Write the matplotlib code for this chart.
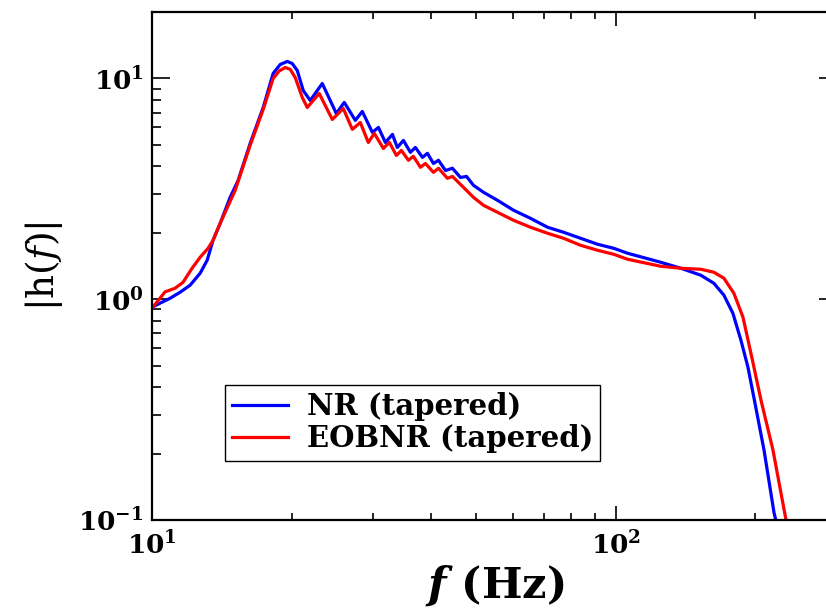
import matplotlib
matplotlib.use("Agg")
import matplotlib.pyplot as plt
from matplotlib.ticker import FixedLocator, FuncFormatter, NullFormatter
import numpy as np

# ---- data ----
nr_f = [10.0, 10.4, 10.94, 11.5, 12.08, 12.7, 13.15, 13.54, 14.03, 14.74, 15.34,
        16.28, 17.37, 18.25, 18.9, 19.57, 20.06, 20.57, 21.19, 21.94, 23.29, 24.97,
        25.98, 27.44, 28.41, 29.87, 30.78, 31.86, 33.0, 33.8, 34.85, 36.07, 36.98,
        38.3, 39.26, 40.45, 41.47, 42.94, 44.45, 46.26, 47.66, 49.35, 51.87, 55.6,
        60.2, 65.5, 71.3, 77.2, 84.0, 91.4, 99.0, 106.1, 125.1, 138.2, 152.6, 162.8,
        171.1, 178.9, 186.2, 192.8, 198.7, 208.8, 219.5, 222.7]
nr_h = [0.92, 0.959, 1.01, 1.076, 1.157, 1.311, 1.501, 1.849, 2.208, 2.894, 3.456,
        5.08, 7.39, 10.54, 11.57, 11.94, 11.69, 10.87, 8.82, 7.95, 9.49, 6.94,
        7.79, 6.46, 7.09, 5.70, 6.00, 5.13, 5.58, 4.87, 5.24, 4.63, 4.87,
        4.39, 4.58, 4.12, 4.26, 3.83, 3.92, 3.56, 3.60, 3.28, 3.05, 2.805,
        2.53, 2.325, 2.118, 2.01, 1.888, 1.774, 1.701, 1.615, 1.47, 1.381, 1.284, 1.181,
        1.043, 0.864, 0.652, 0.492, 0.356, 0.2074, 0.1076, 0.0949]

eob_f = [10.0, 10.67, 11.21, 11.67, 12.2, 12.7, 13.21, 13.54, 14.03, 15.11, 16.28,
         17.37, 18.25, 18.8, 19.38, 19.86, 20.36, 21.09, 21.62, 22.94, 24.48, 25.85,
         27.04, 28.13, 29.27, 30.16, 31.54, 32.5, 33.65, 34.5, 35.72, 36.61, 37.91,
         38.87, 40.45, 41.47, 43.36, 44.45, 46.96, 49.35, 51.87, 55.6, 60.2, 65.5,
         71.3, 77.2, 84.0, 91.4, 99.0, 106.1, 125.1, 138.2, 152.6, 162.8, 171.1,
         179.8, 188.1, 196.7, 205.7, 218.3, 232.9, 235.2]
eob_h = [0.91, 1.08, 1.121, 1.194, 1.381, 1.549, 1.701, 1.849, 2.208, 3.112, 4.98,
         7.24, 10.0, 10.81, 11.21, 11.0, 10.1, 8.20, 7.39, 8.55, 6.52, 7.31,
         5.88, 6.32, 5.13, 5.64, 4.82, 5.13, 4.48, 4.72, 4.26, 4.44, 3.96,
         4.12, 3.755, 3.92, 3.53, 3.60, 3.21, 2.894, 2.663, 2.476, 2.278, 2.118,
         1.989, 1.888, 1.755, 1.666, 1.598, 1.517, 1.410, 1.381, 1.367, 1.325, 1.245,
         1.064, 0.829, 0.541, 0.349, 0.2074, 0.1, 0.092]

series_labels = ["NR (tapered)", "EOBNR (tapered)"]
x_major = [10, 100]
y_major = [0.1, 1, 10]

plt.rcParams['font.family'] = ['DejaVu Serif']
plt.rcParams['mathtext.fontset'] = 'dejavuserif'

fig = plt.figure(figsize=(8.26, 6.09), dpi=100)
ax = fig.add_axes([152/826, 1 - 520/609, 685/826, 508/609])

ax.plot(nr_f, nr_h, color='#0000ff', lw=2.3, label=series_labels[0])
ax.plot(eob_f, eob_h, color='#ff0000', lw=2.3, label=series_labels[1])

ax.set_xscale('log')
ax.set_yscale('log')
ax.set_xlim(10, 300)
ax.set_ylim(0.1, 20)

ax.xaxis.set_major_locator(FixedLocator(x_major))
ax.yaxis.set_major_locator(FixedLocator(y_major))
ax.xaxis.set_minor_locator(FixedLocator([m * d for d in (10, 100) for m in range(2, 10)]))
ax.yaxis.set_minor_locator(FixedLocator([m * d for d in (0.1, 1, 10) for m in range(2, 10)]))
fmt = FuncFormatter(lambda v, p: r'$\mathbf{10^{%d}}$' % int(round(np.log10(v))))
ax.xaxis.set_major_formatter(fmt)
ax.yaxis.set_major_formatter(fmt)
ax.xaxis.set_minor_formatter(NullFormatter())
ax.yaxis.set_minor_formatter(NullFormatter())

ax.tick_params(which='both', direction='in', top=True, right=True, width=1.2, colors='black')
ax.tick_params(axis='x', which='major', length=10, pad=8, labelsize=19)
ax.tick_params(axis='x', which='minor', length=5)
ax.tick_params(axis='y', which='major', length=13, pad=6, labelsize=19)
ax.tick_params(axis='y', which='minor', length=6.5)

for s in ax.spines.values():
    s.set_linewidth(1.6)
    s.set_color('black')

ax.set_xlabel(r'$\mathbfit{f}$ (Hz)', fontsize=31, fontweight='bold')
ax.xaxis.set_label_coords(0.5, -0.085)
ax.set_ylabel(r'$|\mathrm{h}(\mathit{f})|$', fontsize=27)
ax.yaxis.label.set_ha('center')
ax.yaxis.label.set_va('center')
ax.yaxis.label.set_rotation_mode('anchor')
ax.yaxis.set_label_coords(-0.158, 0.5)

leg = ax.legend(loc='upper left', bbox_to_anchor=(0.1066, 0.2657), borderaxespad=0,
                prop={'family': 'DejaVu Serif', 'weight': 'bold', 'size': 21},
                frameon=True, fancybox=False, framealpha=1, edgecolor='black',
                handlelength=1.9, handletextpad=0.65, labelspacing=0.1, borderpad=0.25)
leg.get_frame().set_linewidth(1.0)
for l in leg.get_lines():
    l.set_linewidth(2.3)

fig.savefig('out.png', dpi=100)
